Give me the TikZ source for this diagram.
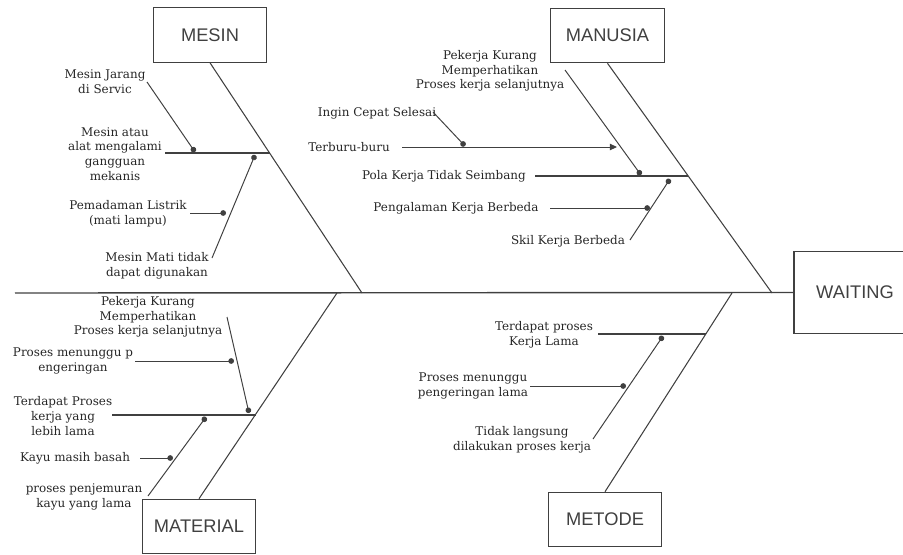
\documentclass[tikz,border=0pt]{standalone}
\usepackage{fontspec}
\setmainfont{DejaVu Serif}
\newfontfamily\boxfont{Liberation Sans}
\usetikzlibrary{arrows.meta,positioning}
\definecolor{inkx}{HTML}{404040}
\tikzset{
  bone/.style={inkx,line width=0.75pt},
  dotar/.style={-{Circle[length=4pt]},inkx,line width=0.7pt},
  tipar/.style={-{Triangle[length=5pt,width=4.5pt]},inkx,line width=0.7pt},
  lbl/.style={font=\fontsize{8.5}{10.5}\selectfont,align=center,inner sep=1pt,text=black!85},
  cat/.style={draw=inkx,line width=0.8pt,font=\boxfont\fontsize{13}{15}\selectfont,text=inkx,minimum width=2.83cm,minimum height=1.36cm,inner sep=0pt}
}
\begin{document}
\begin{tikzpicture}[x=0.025cm,y=-0.025cm]
\useasboundingbox (0,0) rectangle (903,554);
\node[cat] (mesin) at (210,35) {MESIN};
\node[cat] (manusia) at (607.5,35.5) {MANUSIA};
\node[cat] (material) at (199,526.5) {MATERIAL};
\node[cat] (metode) at (605,519.5) {METODE};
\node[cat,minimum width=3.05cm,minimum height=2.03cm] (waiting) at (855,292.5) {WAITING};
\coordinate (spL) at (15,293);
\coordinate (spA) at (337,293);
\coordinate (spB) at (362,293);
\coordinate (spC) at (732,293);
\coordinate (spD) at (772,293);
\draw[bone,line width=1pt] (spL) -- (waiting.west);
\draw[bone] (mesin.south) -- (spB);
\draw[bone] (manusia.south) -- (spD);
\draw[bone] (material.north) -- (spA);
\draw[bone] (metode.north) -- (spC);
% mesin
\node[lbl] (jarang) at (105,82) {Mesin Jarang\\di Servic};
\node[lbl] (ganggu) at (115,154) {Mesin atau\\alat mengalami\\gangguan\\mekanis};
\node[lbl] (listrik) at (128,214) {Pemadaman Listrik\\(mati lampu)};
\node[lbl] (mati) at (157,266) {Mesin Mati tidak\\dapat digunakan};
\coordinate (m1a) at (165,153); \coordinate (m1b) at (270,153);
\coordinate (m2a) at (147,82); \coordinate (m2b) at (195,152);
\coordinate (m3a) at (212,258); \coordinate (m3b) at (255,155);
\coordinate (m4a) at (190,213); \coordinate (m4b) at (226,213);
\draw[bone] (m1a) -- (m1b);
\draw[dotar] (m2a) -- (m2b);
\draw[dotar] (m3a) -- (m3b);
\draw[dotar] (m4a) -- (m4b);
% manusia
\node[lbl] (kurangA) at (490,71) {Pekerja Kurang\\Memperhatikan\\Proses kerja selanjutnya};
\node[lbl] (cepat) at (377,113) {Ingin Cepat Selesai};
\node[lbl] (buru) at (349,147) {Terburu-buru};
\node[lbl] (pola) at (444,176) {Pola Kerja Tidak Seimbang};
\node[lbl] (alam) at (456,208) {Pengalaman Kerja Berbeda};
\node[lbl] (skil) at (568,241) {Skil Kerja Berbeda};
\coordinate (h1a) at (535,176); \coordinate (h1b) at (688,176);
\coordinate (h2a) at (565,70); \coordinate (h2b) at (641,175);
\coordinate (h3a) at (630,240); \coordinate (h3b) at (670,179);
\coordinate (h4a) at (550,208); \coordinate (h4b) at (650,208);
\coordinate (h5a) at (402,147); \coordinate (h5b) at (617,147);
\coordinate (h6a) at (433,112); \coordinate (h6b) at (465,146);
\draw[bone] (h1a) -- (h1b);
\draw[dotar] (h2a) -- (h2b);
\draw[dotar] (h3a) -- (h3b);
\draw[dotar] (h4a) -- (h4b);
\draw[tipar] (h5a) -- (h5b);
\draw[dotar] (h6a) -- (h6b);
% material
\node[lbl] (kurangB) at (148,317) {Pekerja Kurang\\Memperhatikan\\Proses kerja selanjutnya};
\node[lbl] (tunggu) at (73,361) {Proses menunggu p\\engeringan};
\node[lbl] (lebih) at (63,416) {Terdapat Proses\\kerja yang\\lebih lama};
\node[lbl] (basah) at (75,458) {Kayu masih basah};
\node[lbl] (jemur) at (84,497) {proses penjemuran\\kayu yang lama};
\coordinate (t1a) at (112,415); \coordinate (t1b) at (256,415);
\coordinate (t2a) at (227,317); \coordinate (t2b) at (249,413);
\coordinate (t3a) at (135,361); \coordinate (t3b) at (234,361);
\coordinate (t4a) at (148,496); \coordinate (t4b) at (206,417);
\coordinate (t5a) at (140,458); \coordinate (t5b) at (173,458);
\draw[bone] (t1a) -- (t1b);
\draw[dotar] (t2a) -- (t2b);
\draw[dotar] (t3a) -- (t3b);
\draw[dotar] (t4a) -- (t4b);
\draw[dotar] (t5a) -- (t5b);
% metode
\node[lbl] (lama) at (544,335) {Terdapat proses\\Kerja Lama};
\node[lbl] (kering) at (473,386) {Proses menunggu\\pengeringan lama};
\node[lbl] (langsung) at (522,440) {Tidak langsung\\dilakukan proses kerja};
\coordinate (d1a) at (598,334); \coordinate (d1b) at (706,334);
\coordinate (d2a) at (593,439); \coordinate (d2b) at (663,336);
\coordinate (d3a) at (530,386); \coordinate (d3b) at (626,386);
\draw[bone] (d1a) -- (d1b);
\draw[dotar] (d2a) -- (d2b);
\draw[dotar] (d3a) -- (d3b);
\end{tikzpicture}
\end{document}
